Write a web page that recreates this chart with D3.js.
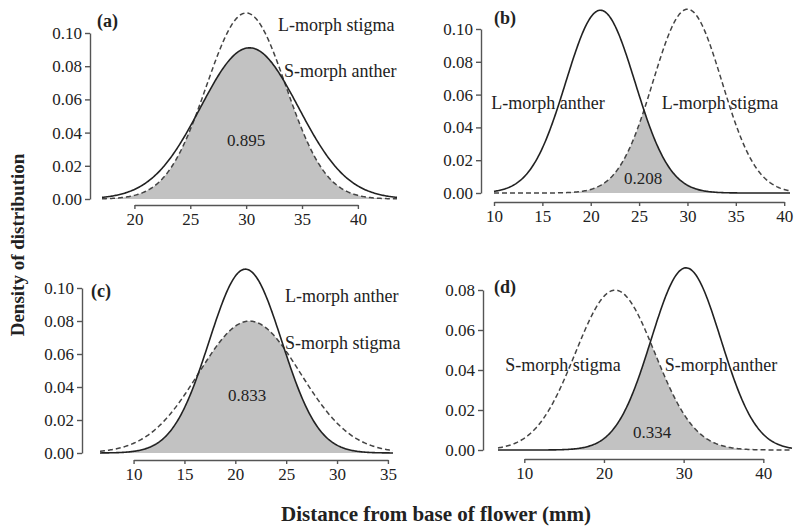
<!DOCTYPE html>
<html>
<head>
<meta charset="utf-8">
<script src="https://cdn.jsdelivr.net/npm/d3@7"></script>
<style>
  body { margin: 0; background: #fff; }
  svg text { font-family: "Liberation Serif", "Times New Roman", serif; fill: #222; }
</style>
</head>
<body>
<div id="chart"></div>
<script>
// Dữ liệu: tham số phân bố chuẩn (đơn vị mm)
const panelTags = ["(a)", "(b)", "(c)", "(d)"];
const solidNames = ["S-morph anther", "L-morph anther", "L-morph anther", "S-morph anther"];
const dashedNames = ["L-morph stigma", "L-morph stigma", "S-morph stigma", "S-morph stigma"];
const solidMean = [30.3, 21.0, 21.0, 30.3];
const solidSd = [4.38, 3.58, 3.58, 4.38];
const dashedMean = [30.0, 30.0, 21.4, 21.4];
const dashedSd = [3.56, 3.56, 4.99, 4.99];
const overlapText = ["0.895", "0.208", "0.833", "0.334"];
const xTicks = [[20, 25, 30, 35, 40], [10, 15, 20, 25, 30, 35, 40], [10, 15, 20, 25, 30, 35], [10, 20, 30, 40]];
const yTicks = [[0, 0.02, 0.04, 0.06, 0.08, 0.10], [0, 0.02, 0.04, 0.06, 0.08, 0.10], [0, 0.02, 0.04, 0.06, 0.08, 0.10], [0, 0.02, 0.04, 0.06, 0.08]];
const xDomain = [[17.1, 43.5], [10, 40.6], [6.7, 35.5], [6.7, 43.6]];

// Bố cục từng ô (pixel)
const layout = [
  { xr: [102, 397], yr: [199, 33], yAxisX: 90, xAxisY: 205,
    tag: [97, 27], solidLab: [284, 77], dashLab: [278, 31], ov: [246, 146], labAnchor: "start" },
  { xr: [494, 790], yr: [193, 29], yAxisX: 481, xAxisY: 202,
    tag: [494, 24], solidLab: [548, 109], dashLab: [720, 109], ov: [643, 184], labAnchor: "middle" },
  { xr: [100, 393], yr: [453, 288], yAxisX: 82, xAxisY: 460,
    tag: [91, 297], solidLab: [285, 302], dashLab: [285, 349], ov: [247, 401], labAnchor: "start" },
  { xr: [498, 792], yr: [450, 290], yAxisX: 483, xAxisY: 459,
    tag: [494, 293], solidLab: [721, 371], dashLab: [563, 371], ov: [652, 438], labAnchor: "middle" }
];

const W = 797, H = 530;
const svg = d3.select("#chart").append("svg")
  .attr("width", W).attr("height", H);

// Mật độ phân bố chuẩn
function dnorm(x, m, s) {
  return Math.exp(-0.5 * ((x - m) / s) ** 2) / (s * Math.sqrt(2 * Math.PI));
}

panelTags.forEach((tag, i) => {
  const L = layout[i];
  const g = svg.append("g");

  const x = d3.scaleLinear().domain(xDomain[i]).range(L.xr);
  const yt = yTicks[i];
  const y = d3.scaleLinear().domain([0, yt[yt.length - 1]]).range(L.yr);

  const xs = d3.range(0, 301).map(k => xDomain[i][0] + (xDomain[i][1] - xDomain[i][0]) * k / 300);
  const pts = xs.map(v => ({
    x: v,
    s: dnorm(v, solidMean[i], solidSd[i]),
    d: dnorm(v, dashedMean[i], dashedSd[i])
  }));

  // Vùng chồng lấp
  g.append("path")
    .datum(pts)
    .attr("fill", "#c2c2c2")
    .attr("d", d3.area().x(d => x(d.x)).y0(y(0)).y1(d => y(Math.min(d.s, d.d))));

  // Đường nét đứt
  g.append("path")
    .datum(pts)
    .attr("fill", "none")
    .attr("stroke", "#444")
    .attr("stroke-width", 1.5)
    .attr("stroke-dasharray", "5,3")
    .attr("d", d3.line().x(d => x(d.x)).y(d => y(d.d)));

  // Đường liền
  g.append("path")
    .datum(pts)
    .attr("fill", "none")
    .attr("stroke", "#222")
    .attr("stroke-width", 1.6)
    .attr("d", d3.line().x(d => x(d.x)).y(d => y(d.s)));

  // Trục Y
  const yAxis = g.append("g")
    .attr("transform", `translate(${L.yAxisX},0)`)
    .call(d3.axisLeft(y).tickValues(yt).tickFormat(d3.format(".2f")).tickSize(5).tickSizeOuter(0).tickPadding(3));

  // Trục X (chỉ từ tick đầu đến tick cuối)
  const xt = xTicks[i];
  const xa = d3.scaleLinear().domain([xt[0], xt[xt.length - 1]]).range([x(xt[0]), x(xt[xt.length - 1])]);
  const xAxis = g.append("g")
    .attr("transform", `translate(0,${L.xAxisY})`)
    .call(d3.axisBottom(xa).tickValues(xt).tickSize(4).tickSizeOuter(0).tickPadding(4));

  [yAxis, xAxis].forEach(a => {
    a.select(".domain").attr("stroke", "#555").attr("stroke-width", 1.4);
    a.selectAll(".tick line").attr("stroke", "#555").attr("stroke-width", 1.4);
    a.selectAll(".tick text").style("font-size", "17px").attr("fill", "#222");
  });

  // Nhãn
  g.append("text").attr("x", L.tag[0]).attr("y", L.tag[1])
    .style("font-size", "18px").style("font-weight", "bold").text(tag);
  g.append("text").attr("x", L.solidLab[0]).attr("y", L.solidLab[1])
    .attr("text-anchor", L.labAnchor).style("font-size", "18px").text(solidNames[i]);
  g.append("text").attr("x", L.dashLab[0]).attr("y", L.dashLab[1])
    .attr("text-anchor", L.labAnchor).style("font-size", "18px").text(dashedNames[i]);
  g.append("text").attr("x", L.ov[0]).attr("y", L.ov[1])
    .attr("text-anchor", "middle").style("font-size", "17px").text(overlapText[i]);
});

// Tiêu đề trục
svg.append("text")
  .attr("transform", "translate(24,245) rotate(-90)")
  .attr("text-anchor", "middle")
  .style("font-size", "19px").style("font-weight", "bold").attr("fill", "#111")
  .text("Density of distribution");

svg.append("text")
  .attr("x", 436).attr("y", 521)
  .attr("text-anchor", "middle")
  .style("font-size", "21px").style("font-weight", "bold").attr("fill", "#111")
  .text("Distance from base of flower (mm)");
</script>
</body>
</html>
